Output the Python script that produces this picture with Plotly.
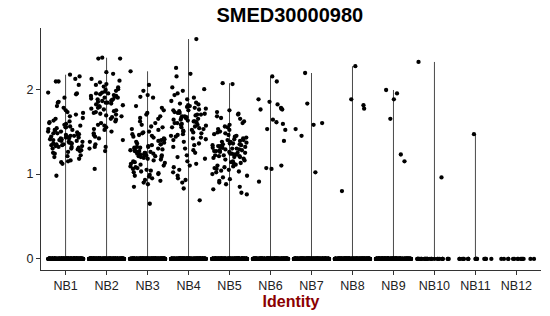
import numpy as np
import plotly.graph_objects as go

categories = ["NB1", "NB2", "NB3", "NB4", "NB5", "NB6", "NB7", "NB8", "NB9", "NB10", "NB11", "NB12"]

# non-zero expression values per identity
nb1 = [2.17, 2.15, 2.12, 2.09, 2.09, 2.05, 1.96, 1.95, 1.94, 1.90, 1.85, 1.84, 1.80, 1.78, 1.75, 1.73, 1.72,
       1.70, 1.68, 1.66, 1.65, 1.63, 1.62, 1.61, 1.60, 1.59, 1.58, 1.57, 1.56, 1.55, 1.55, 1.54, 1.53, 1.52,
       1.52, 1.51, 1.50, 1.50, 1.49, 1.48, 1.48, 1.47, 1.46, 1.46, 1.45, 1.45, 1.44, 1.44, 1.43, 1.43, 1.42,
       1.42, 1.41, 1.41, 1.40, 1.40, 1.39, 1.39, 1.38, 1.38, 1.37, 1.37, 1.36, 1.36, 1.35, 1.35, 1.34, 1.34,
       1.33, 1.33, 1.32, 1.32, 1.31, 1.30, 1.30, 1.29, 1.28, 1.27, 1.26, 1.25, 1.24, 1.22, 1.21, 1.20, 1.18,
       1.16, 1.15, 1.14, 1.12, 0.98]
nb2 = [2.37, 2.36, 2.36, 2.20, 2.18, 2.12, 2.10, 2.08, 2.06, 2.05, 2.03, 2.02, 2.00, 1.99, 1.98, 1.97, 1.96,
       1.95, 1.95, 1.94, 1.93, 1.92, 1.92, 1.91, 1.90, 1.90, 1.89, 1.88, 1.88, 1.87, 1.86, 1.86, 1.85, 1.84,
       1.84, 1.83, 1.82, 1.81, 1.80, 1.79, 1.78, 1.77, 1.76, 1.75, 1.74, 1.73, 1.72, 1.71, 1.70, 1.69, 1.68,
       1.67, 1.65, 1.64, 1.62, 1.60, 1.58, 1.57, 1.55, 1.53, 1.52, 1.50, 1.48, 1.46, 1.44, 1.42, 1.40, 1.38,
       1.35, 1.32, 1.32, 1.30, 1.27, 1.06]
nb3 = [2.21, 2.05, 1.98, 1.93, 1.91, 1.90, 1.80, 1.78, 1.75, 1.72, 1.70, 1.68, 1.66, 1.65, 1.62, 1.60, 1.58,
       1.56, 1.55, 1.53, 1.52, 1.50, 1.49, 1.48, 1.47, 1.46, 1.45, 1.44, 1.43, 1.42, 1.41, 1.40, 1.39, 1.38,
       1.37, 1.36, 1.35, 1.35, 1.34, 1.33, 1.32, 1.32, 1.31, 1.31, 1.30, 1.30, 1.29, 1.28, 1.28, 1.27, 1.27,
       1.26, 1.26, 1.25, 1.25, 1.24, 1.24, 1.23, 1.23, 1.22, 1.22, 1.21, 1.21, 1.20, 1.20, 1.19, 1.18, 1.17,
       1.16, 1.15, 1.14, 1.13, 1.12, 1.11, 1.10, 1.09, 1.08, 1.07, 1.06, 1.05, 1.04, 1.03, 1.02, 1.01, 1.00,
       0.99, 0.98, 0.97, 0.95, 0.93, 0.92, 0.90, 0.88, 0.85, 0.65]
nb4 = [2.59, 2.25, 2.18, 2.15, 2.02, 2.00, 1.98, 1.95, 1.93, 1.90, 1.88, 1.86, 1.84, 1.83, 1.82, 1.81, 1.80,
       1.79, 1.78, 1.77, 1.76, 1.75, 1.75, 1.74, 1.73, 1.72, 1.72, 1.71, 1.70, 1.70, 1.69, 1.68, 1.68, 1.67,
       1.66, 1.66, 1.65, 1.64, 1.64, 1.63, 1.62, 1.62, 1.61, 1.60, 1.60, 1.59, 1.58, 1.58, 1.57, 1.56, 1.55,
       1.55, 1.54, 1.53, 1.52, 1.51, 1.50, 1.49, 1.48, 1.47, 1.46, 1.45, 1.44, 1.43, 1.42, 1.41, 1.40, 1.38,
       1.36, 1.34, 1.32, 1.30, 1.28, 1.25, 1.22, 1.20, 1.18, 1.15, 1.12, 1.10, 1.08, 1.05, 1.02, 0.98, 0.95,
       0.93, 0.90, 0.83, 0.69]
nb5 = [2.07, 2.06, 1.75, 1.73, 1.71, 1.70, 1.68, 1.66, 1.65, 1.62, 1.60, 1.58, 1.56, 1.55, 1.53, 1.52, 1.50,
       1.49, 1.48, 1.47, 1.46, 1.45, 1.44, 1.43, 1.42, 1.41, 1.40, 1.40, 1.39, 1.38, 1.38, 1.37, 1.36, 1.36,
       1.35, 1.35, 1.34, 1.34, 1.33, 1.33, 1.32, 1.32, 1.31, 1.31, 1.30, 1.30, 1.29, 1.29, 1.28, 1.28, 1.27,
       1.27, 1.26, 1.26, 1.25, 1.25, 1.24, 1.24, 1.23, 1.23, 1.22, 1.22, 1.21, 1.21, 1.20, 1.20, 1.19, 1.18,
       1.17, 1.16, 1.15, 1.14, 1.13, 1.12, 1.11, 1.10, 1.09, 1.08, 1.07, 1.06, 1.05, 1.04, 1.03, 1.02, 1.00,
       0.98, 0.96, 0.94, 0.92, 0.90, 0.88, 0.85, 0.82, 0.78, 0.76]
nb6 = [2.15, 2.09, 1.88, 1.85, 1.82, 1.78, 1.77, 1.76, 1.76, 1.64, 1.61, 1.59, 1.53, 1.52, 1.39, 1.10, 1.07,
       1.06, 0.91]
nb7 = [2.19, 1.83, 1.60, 1.58, 1.53, 1.45, 1.02]
nb8 = [2.27, 1.88, 1.81, 1.77, 0.80]
nb9 = [1.99, 1.95, 1.88, 1.65, 1.23, 1.15]
nb10 = [2.32, 0.96]
nb11 = [1.47]
nb12 = []
nonzero_values = [nb1, nb2, nb3, nb4, nb5, nb6, nb7, nb8, nb9, nb10, nb11, nb12]

# number of cells with zero expression per identity
zero_counts = [400, 400, 400, 400, 400, 400, 400, 400, 400, 30, 18, 14]

title_text = "SMED30000980"
x_title = "Identity"
y_ticks = [0, 1, 2]

rng = np.random.default_rng(7)
JIT = 0.43

fig = go.Figure()

# violins (collapsed to thin lines because of the zero mass)
for i, vals in enumerate(nonzero_values):
    if len(vals) == 0:
        continue
    fig.add_trace(go.Scatter(x=[i, i], y=[0, max(vals)], mode="lines",
                             line=dict(color="#4a4a4a", width=1), hoverinfo="skip", showlegend=False))

# jittered points
xs, ys = [], []
for i, (vals, nz) in enumerate(zip(nonzero_values, zero_counts)):
    allv = list(vals) + [0.0] * nz
    jit = rng.uniform(-JIT, JIT, len(allv))
    xs.extend((i + jit).tolist())
    ys.extend(allv)

fig.add_trace(go.Scatter(x=xs, y=ys, mode="markers",
                         marker=dict(color="black", size=4.3, line=dict(width=0)),
                         hoverinfo="skip", showlegend=False))

font_family = "Liberation Sans, Arial, sans-serif"

fig.update_layout(
    width=550, height=316,
    margin=dict(l=41, r=9, t=28, b=46),
    paper_bgcolor="white", plot_bgcolor="white",
    font=dict(family=font_family, color="#222"),
    title=dict(text="<b>" + title_text + "</b>", x=0.527, xanchor="center", y=0.952, yanchor="middle",
               font=dict(size=20, color="black", family=font_family)),
    xaxis=dict(
        range=[-0.6, 11.6], tickmode="array", tickvals=list(range(len(categories))), ticktext=categories,
        showline=True, linecolor="#333", linewidth=1, ticks="outside", ticklen=4, tickcolor="#333",
        showgrid=False, zeroline=False, tickfont=dict(size=12.5, color="#222"),
        title=dict(text="<b>" + x_title + "</b>", font=dict(size=16, color="#8B0000"), standoff=2),
    ),
    yaxis=dict(
        range=[-0.13, 2.72], tickmode="array", tickvals=y_ticks, ticktext=[str(t) for t in y_ticks],
        showline=True, linecolor="#333", linewidth=1, ticks="outside", ticklen=4, tickcolor="#333",
        showgrid=False, zeroline=False, tickfont=dict(size=12.5, color="#222"),
    ),
)

fig.write_html("out.html")
